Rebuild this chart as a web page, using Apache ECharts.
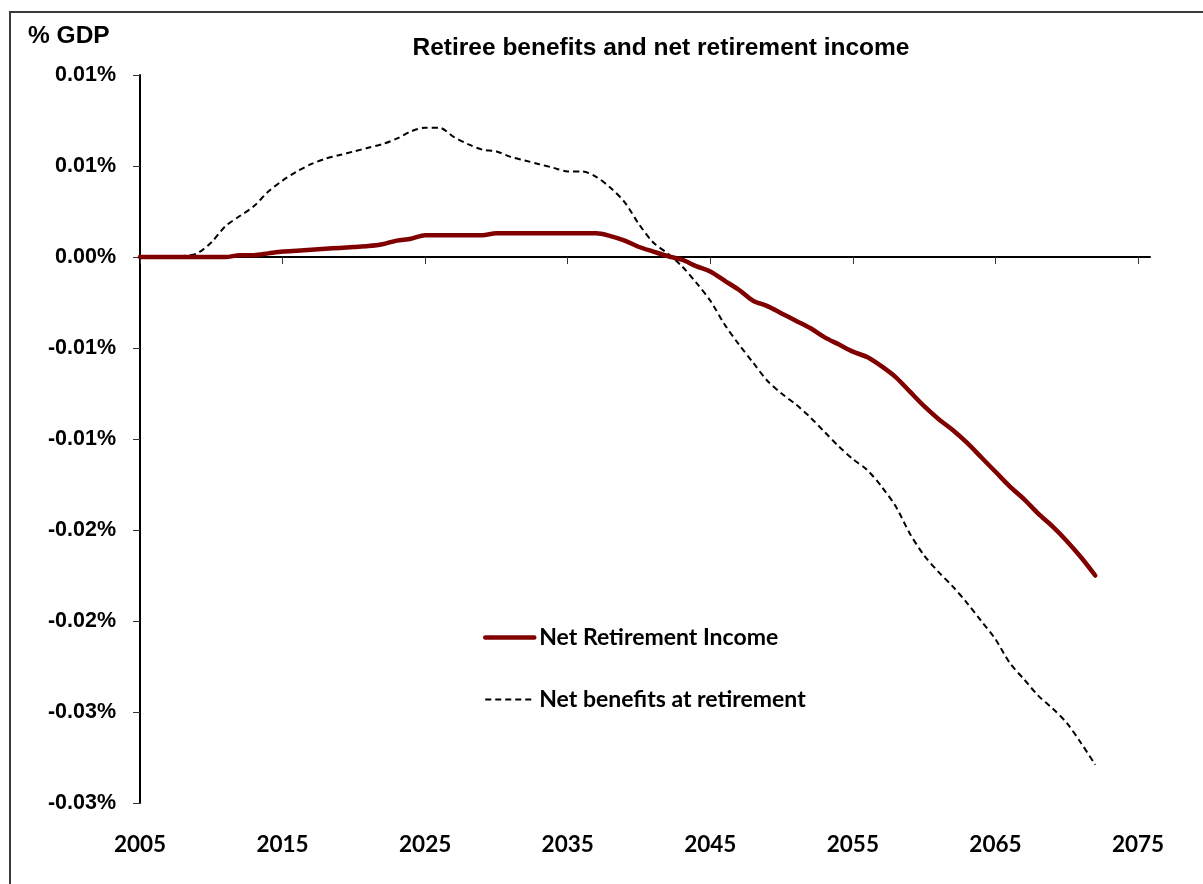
<!DOCTYPE html>
<html>
<head>
<meta charset="utf-8">
<title>Retiree benefits and net retirement income</title>
<script src="https://cdn.jsdelivr.net/npm/echarts@6/dist/echarts.min.js"></script>
<style>
  html, body { margin: 0; padding: 0; background: #ffffff; }
  #chart { width: 1203px; height: 884px; }
</style>
</head>
<body>
<div id="chart"></div>
<script>
// Years covered by both series
const years = [
  2005, 2006, 2007, 2008, 2009, 2010, 2011, 2012, 2013, 2014,
  2015, 2016, 2017, 2018, 2019, 2020, 2021, 2022, 2023, 2024,
  2025, 2026, 2027, 2028, 2029, 2030, 2031, 2032, 2033, 2034,
  2035, 2036, 2037, 2038, 2039, 2040, 2041, 2042, 2043, 2044,
  2045, 2046, 2047, 2048, 2049, 2050, 2051, 2052, 2053, 2054,
  2055, 2056, 2057, 2058, 2059, 2060, 2061, 2062, 2063, 2064,
  2065, 2066, 2067, 2068, 2069, 2070, 2071, 2072
];

// Net Retirement Income, % of GDP
const netRetirementIncome = [
  0, 0, 0, 0, 0, 0, 0, 0.0001, 0.0001, 0.0002,
  0.0003, 0.00035, 0.0004, 0.00045, 0.0005, 0.00055, 0.0006, 0.0007, 0.0009, 0.001,
  0.0012, 0.0012, 0.0012, 0.0012, 0.0012, 0.0013, 0.0013, 0.0013, 0.0013, 0.0013,
  0.0013, 0.0013, 0.0013, 0.00115, 0.0009, 0.00055, 0.0003, 0.00005, -0.00015, -0.0005,
  -0.0008, -0.0013, -0.0018, -0.0024, -0.0027, -0.0031, -0.0035, -0.0039, -0.0044, -0.0048,
  -0.0052, -0.0055, -0.006, -0.0066, -0.0074, -0.0082, -0.0089, -0.0095, -0.0102, -0.011,
  -0.0118, -0.0126, -0.0133, -0.0141, -0.0148, -0.0156, -0.0165, -0.0175
];

// Net benefits at retirement, % of GDP
const netBenefitsAtRetirement = [
  0, 0, 0, 0.00005, 0.0002, 0.0008, 0.0017, 0.00225, 0.0028, 0.0036,
  0.0042, 0.0047, 0.0051, 0.0054, 0.0056, 0.0058, 0.006, 0.0062, 0.0065, 0.0069,
  0.0071, 0.0071, 0.0066, 0.0062, 0.0059, 0.0058, 0.0055, 0.0053, 0.0051, 0.0049,
  0.0047, 0.0047, 0.0044, 0.0038, 0.003, 0.0018, 0.0008, 0.0002, -0.0005, -0.0014,
  -0.0024, -0.0037, -0.0048, -0.0058, -0.0068, -0.0075, -0.0081, -0.0088, -0.0096, -0.0104,
  -0.0111, -0.0117, -0.0126, -0.0137, -0.0152, -0.0164, -0.0173, -0.0181, -0.019, -0.02,
  -0.021, -0.0223, -0.0232, -0.0241, -0.0248, -0.0256, -0.0267, -0.0279
];

// Axis ticks
const xTickYears = [2005, 2015, 2025, 2035, 2045, 2055, 2065, 2075];
const yTickValues = [0.01, 0.005, 0, -0.005, -0.01, -0.015, -0.02, -0.025, -0.03];
const yTickLabels = ['0.01%', '0.01%', '0.00%', '-0.01%', '-0.01%', '-0.02%', '-0.02%', '-0.03%', '-0.03%'];

const seriesNames = ['Net Retirement Income', 'Net benefits at retirement'];

const pairs = (ys) => years.map((yr, i) => [yr, ys[i]]);

const incomeLine = { color: '#800000', width: 4.5, cap: 'round', join: 'round' };
const benefitsLine = { color: '#000', width: 2, type: [6, 4] };

const chart = echarts.init(document.getElementById('chart'), null, { renderer: 'canvas' });

const xMin = 2005, xMax = 2075.84;

chart.setOption({
  backgroundColor: '#ffffff',
  animation: false,
  graphic: [
    {
      type: 'rect',
      shape: { x: 10, y: 12, width: 1300, height: 1000 },
      style: { fill: 'none', stroke: '#3a3a3a', lineWidth: 2 },
      silent: true,
      z: -1
    },
    {
      type: 'text',
      left: 28,
      top: 24,
      style: {
        text: '% GDP',
        font: 'bold 24.5px "Liberation Sans", Arial, sans-serif',
        fill: '#000'
      }
    },
    {
      type: 'text',
      x: 661,
      y: 48,
      style: {
        text: 'Retiree benefits and net retirement income',
        font: 'bold 24.5px "Liberation Sans", Arial, sans-serif',
        fill: '#000',
        textAlign: 'center',
        textVerticalAlign: 'middle'
      }
    }
  ],
  grid: { left: 140, right: 53, top: 75, bottom: 81, containLabel: false },
  legend: {
    orient: 'vertical',
    left: 483,
    top: 626,
    padding: 0,
    itemWidth: 49,
    itemHeight: 22,
    itemGap: 39,
    itemStyle: { color: 'rgba(0,0,0,0)', borderWidth: 0, opacity: 0 },
    textStyle: {
      fontFamily: 'Lato, "Open Sans", sans-serif',
      fontWeight: 'bold',
      fontSize: 23,
      lineHeight: 22,
      color: '#000'
    },
    data: [
      { name: seriesNames[0], lineStyle: { width: 4.5, color: '#800000', cap: 'round' } },
      { name: seriesNames[1], lineStyle: { width: 2, color: '#000', type: [6, 4] } }
    ]
  },
  xAxis: [
    {
      type: 'value',
      min: xMin,
      max: xMax,
      axisLine: { onZero: true, lineStyle: { color: '#000', width: 2 } },
      axisTick: {
        show: true,
        inside: false,
        length: 7,
        customValues: xTickYears,
        lineStyle: { color: '#333', width: 1 }
      },
      axisLabel: { show: false },
      splitLine: { show: false }
    },
    {
      type: 'value',
      position: 'bottom',
      min: xMin,
      max: xMax,
      axisLine: { show: false, onZero: false },
      axisTick: { show: false },
      splitLine: { show: false },
      axisLabel: {
        customValues: xTickYears,
        margin: 30,
        fontFamily: 'Lato, "Open Sans", sans-serif',
        fontWeight: 'bold',
        fontSize: 22.5,
        color: '#000',
        formatter: (v) => String(v)
      }
    }
  ],
  yAxis: {
    type: 'value',
    min: -0.03,
    max: 0.01,
    interval: 0.005,
    axisLine: { show: true, onZero: false, lineStyle: { color: '#000', width: 2 } },
    axisTick: { show: true, inside: false, length: 7, lineStyle: { color: '#333', width: 1 } },
    splitLine: { show: false },
    axisLabel: {
      margin: 24,
      fontFamily: '"Liberation Sans", Arial, sans-serif',
      fontWeight: 'bold',
      fontSize: 21.5,
      color: '#000',
      formatter: (v) => {
        const idx = yTickValues.findIndex((t) => Math.abs(t - v) < 1e-9);
        return idx >= 0 ? yTickLabels[idx] : '';
      }
    }
  },
  series: [
    {
      name: seriesNames[0],
      type: 'line',
      xAxisIndex: 0,
      data: pairs(netRetirementIncome),
      smooth: 0.3,
      symbol: 'none',
      lineStyle: incomeLine,
      itemStyle: { color: '#800000' },
      z: 3
    },
    {
      name: seriesNames[1],
      type: 'line',
      xAxisIndex: 0,
      data: pairs(netBenefitsAtRetirement),
      smooth: 0.3,
      symbol: 'none',
      lineStyle: benefitsLine,
      itemStyle: { color: '#000' },
      z: 2
    }
  ]
});
</script>
</body>
</html>
